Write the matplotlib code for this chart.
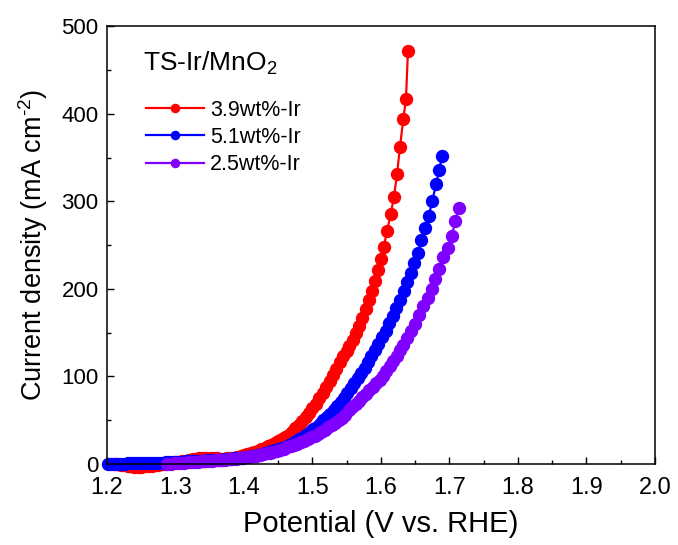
import matplotlib
matplotlib.use("Agg")
import matplotlib.pyplot as plt
from matplotlib.ticker import MultipleLocator, FormatStrFormatter

plt.rcParams['font.family'] = ['Liberation Sans', 'DejaVu Sans']
plt.rcParams['mathtext.fontset'] = 'custom'
plt.rcParams['mathtext.rm'] = 'Liberation Sans'
plt.rcParams['mathtext.it'] = 'Liberation Sans'
plt.rcParams['axes.unicode_minus'] = False

# ---- data ----
red_v = [1.210, 1.215, 1.220, 1.225, 1.230, 1.235, 1.240, 1.245, 1.250, 1.255,
         1.260, 1.265, 1.270, 1.275, 1.280, 1.285, 1.290, 1.295, 1.300, 1.305,
         1.310, 1.315, 1.320, 1.325, 1.330, 1.335, 1.340, 1.345, 1.350, 1.355,
         1.360, 1.365, 1.370, 1.375, 1.380, 1.385, 1.390, 1.395, 1.400, 1.405,
         1.410, 1.415, 1.420, 1.425, 1.430, 1.435, 1.440, 1.445, 1.450, 1.455,
         1.460, 1.465, 1.470, 1.475, 1.480, 1.485, 1.490, 1.495, 1.500, 1.505,
         1.510, 1.515, 1.520, 1.525, 1.530, 1.535, 1.540, 1.545, 1.550, 1.5536,
         1.5587, 1.5635, 1.5683, 1.573, 1.578, 1.582, 1.587, 1.591, 1.596, 1.600,
         1.604, 1.609, 1.6142, 1.619, 1.6234, 1.6277, 1.6326, 1.6365, 1.6394]
red_j = [0.5, 0.0, -0.8, -1.5, -2.2, -2.7, -3.0, -3.0, -3.0, -2.8,
         -2.4, -2.0, -1.5, -1.0, -0.5, 0.0, 0.6, 1.2, 1.8, 2.5,
         3.2, 4.0, 4.7, 5.4, 6.0, 6.5, 6.8, 7.0, 6.9, 6.6,
         6.3, 6.1, 6.1, 6.3, 6.7, 7.3, 8.0, 8.9, 9.9, 11.0,
         12.2, 13.5, 15.0, 16.6, 18.3, 20.1, 22.0, 24.0, 26.2, 28.5,
         31.0, 33.7, 36.8, 41.0, 45.0, 49.0, 53.5, 58.5, 63.5, 69.0,
         75.0, 81.5, 88.0, 95.0, 102.0, 109.0, 116.0, 123.0, 129.0, 135.0,
         142.0, 150.0, 157.5, 167.0, 177.0, 187.0, 198.0, 209.0, 221.0, 234.0,
         248.0, 266.0, 285.4, 305.0, 331.0, 361.5, 394.0, 416.7, 471.8]

blue_v = [1.201, 1.206, 1.211, 1.216, 1.221, 1.226, 1.231, 1.236, 1.241, 1.246,
          1.251, 1.256, 1.261, 1.266, 1.271, 1.276, 1.281, 1.286, 1.291, 1.296,
          1.301, 1.306, 1.311, 1.316, 1.321, 1.326, 1.331, 1.336, 1.341, 1.346,
          1.351, 1.356, 1.361, 1.366, 1.371, 1.376, 1.381, 1.386, 1.391, 1.396,
          1.401, 1.406, 1.411, 1.416, 1.421, 1.426, 1.431, 1.436, 1.441, 1.446,
          1.451, 1.456, 1.461, 1.466, 1.471, 1.476, 1.481, 1.486, 1.491, 1.496,
          1.501, 1.506, 1.511, 1.516, 1.521, 1.526, 1.531, 1.536, 1.541, 1.546,
          1.551, 1.556, 1.561, 1.566, 1.571, 1.576, 1.581, 1.586, 1.591, 1.5961,
          1.6019, 1.6073, 1.6121, 1.6175, 1.6223, 1.6277, 1.6330, 1.6381, 1.6432, 1.6486,
          1.6540, 1.6591, 1.6647, 1.6698, 1.6749, 1.6803, 1.6851, 1.6891]
blue_j = [0.0, 0.1, 0.2, 0.3, 0.4, 0.5, 0.6, 0.7, 0.8, 0.9,
          1.0, 1.1, 1.2, 1.3, 1.4, 1.5, 1.6, 1.8, 2.0, 2.2,
          2.4, 2.6, 2.8, 3.0, 3.2, 3.4, 3.6, 3.8, 4.0, 4.2,
          4.4, 4.6, 4.8, 5.0, 5.3, 5.6, 6.0, 6.4, 6.8, 7.3,
          7.8, 8.4, 9.0, 9.7, 10.5, 11.3, 12.2, 13.2, 14.3, 15.5,
          16.8, 18.2, 19.8, 21.6, 23.6, 25.8, 28.2, 30.8, 33.5, 36.4,
          39.5, 42.8, 46.2, 49.8, 53.6, 57.6, 61.8, 66.2, 70.8, 75.6,
          81.5, 87.0, 92.5, 98.0, 104.0, 110.0, 116.5, 123.0, 130.0, 137.0,
          144.6, 152.2, 160.6, 169.0, 177.7, 187.2, 197.3, 207.4, 218.0, 229.5,
          241.4, 255.7, 270.0, 283.7, 300.2, 319.6, 335.6, 352.0]

purple_v = [1.288, 1.293, 1.298, 1.303, 1.308, 1.313, 1.318, 1.323, 1.328, 1.333,
            1.338, 1.343, 1.348, 1.353, 1.358, 1.363, 1.368, 1.373, 1.378, 1.383,
            1.388, 1.393, 1.398, 1.403, 1.408, 1.413, 1.418, 1.423, 1.428, 1.433,
            1.438, 1.443, 1.448, 1.453, 1.458, 1.463, 1.468, 1.473, 1.478, 1.483,
            1.488, 1.493, 1.498, 1.503, 1.508, 1.513, 1.518, 1.523, 1.528, 1.533,
            1.538, 1.543, 1.548, 1.553, 1.558, 1.563, 1.568, 1.573, 1.578, 1.583,
            1.588, 1.593, 1.598, 1.603, 1.608, 1.613, 1.618, 1.623, 1.628, 1.6326,
            1.6384, 1.6443, 1.650, 1.656, 1.662, 1.668, 1.674, 1.679, 1.685, 1.691,
            1.6974, 1.7032, 1.7084, 1.7133]
purple_j = [0.0, 0.3, 0.6, 0.9, 1.2, 1.5, 1.8, 2.1, 2.4, 2.7,
            3.0, 3.3, 3.6, 3.9, 4.2, 4.5, 4.8, 5.1, 5.4, 5.8,
            6.2, 6.7, 7.2, 7.8, 8.4, 9.0, 9.7, 10.5, 11.3, 12.2,
            13.1, 14.1, 15.2, 16.4, 17.6, 18.9, 20.3, 21.8, 23.4, 25.0,
            26.7, 28.5, 30.4, 32.4, 34.5, 36.8, 39.2, 41.7, 44.3, 47.0,
            50.0, 53.0, 56.5, 62.0, 65.5, 69.0, 72.5, 76.5, 80.5, 84.5,
            88.5, 92.5, 96.5, 101.0, 106.0, 111.5, 117.5, 123.5, 130.0, 136.0,
            143.5, 151.5, 160.0, 170.0, 180.0, 190.0, 200.0, 211.0, 223.0, 236.0,
            247.0, 260.0, 277.0, 292.0]

series_labels = ['3.9wt%-Ir', '5.1wt%-Ir', '2.5wt%-Ir']
series_colors = ['#FF0000', '#0000FF', '#8000FF']
legend_title = 'TS-Ir/MnO$_2$'

fig = plt.figure(figsize=(6.78, 5.45), dpi=100)
ax = fig.add_axes([0.1578, 0.1486, 0.8082, 0.8034])

for v, j, lab, col in zip([red_v, blue_v, purple_v], [red_j, blue_j, purple_j],
                          series_labels, series_colors):
    ax.plot(v, j, '-o', color=col, lw=1.6, ms=8.6, mec=col, mfc=col,
            label=lab, clip_on=False)

ax.set_xlim(1.2, 2.0)
ax.set_ylim(0, 500)
ax.xaxis.set_major_locator(MultipleLocator(0.1))
ax.xaxis.set_minor_locator(MultipleLocator(0.05))
ax.yaxis.set_major_locator(MultipleLocator(100))
ax.yaxis.set_minor_locator(MultipleLocator(50))
ax.tick_params(which='both', direction='in', top=False, right=False)
ax.tick_params(which='major', length=5, width=1)
ax.tick_params(which='minor', length=3, width=1)
ax.tick_params(axis='x', which='major', pad=9, labelsize=17)
ax.tick_params(axis='y', which='major', pad=6, labelsize=16)
ax.xaxis.set_major_formatter(FormatStrFormatter('%.1f'))
for s in ax.spines.values():
    s.set_linewidth(1.1)

ax.set_xlabel('Potential (V vs. RHE)', fontsize=21, labelpad=8)
ax.set_ylabel('Current density (mA cm$^{\u2010 2}$)', fontsize=19.5, labelpad=8)

ax.text(0.066, 0.915, legend_title, transform=ax.transAxes, fontsize=19,
        ha='left', va='center')
leg = ax.legend(loc='upper left', bbox_to_anchor=(0.055, 0.852), frameon=False,
                fontsize=15.5, handlelength=2.7, handletextpad=0.3,
                labelspacing=0.3, markerscale=0.68, borderaxespad=0)

fig.savefig('out.png', dpi=100)
